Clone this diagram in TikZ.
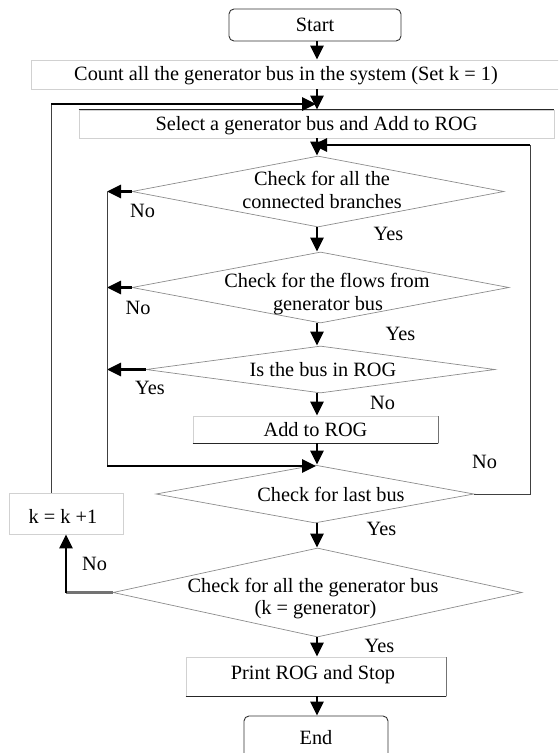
\documentclass[tikz,border=0pt]{standalone}
\usepackage{fontspec}
\setmainfont{Liberation Serif}
\usetikzlibrary{shapes.geometric,arrows.meta,calc}

\begin{document}
\begin{tikzpicture}[x=1pt,y=-1pt,
  font=\fontsize{20.3}{24}\selectfont,
  txt/.style={inner sep=0pt, text height=13.4pt, text depth=0pt},
  box/.style={draw=black!18, line width=0.8pt, inner sep=0pt, text height=13.4pt, text depth=0pt},
  term/.style={draw=black!80, line width=0.9pt, rounded corners=5pt, inner sep=0pt, text height=13.4pt, text depth=0pt},
  dia/.style={diamond, draw=black!45, line width=0.7pt, inner sep=0pt},
  arr/.style={line width=2.6pt, draw=black, -{Triangle[length=14pt,width=13pt]}},
  ln/.style={line width=1pt, draw=black!75},
  dk/.style={line width=1pt, draw=black!85},
  mid/.style={line width=1pt, draw=black!55}
]
\clip (0,0) rectangle (558,753);

% reference points for the main axis and the loop corners
\coordinate (ax) at (317,0);
\coordinate (lo) at (51,104);
\coordinate (li) at (107,466);
\coordinate (ro) at (530,145);

% process boxes and decisions
\node[term, minimum width=172pt, minimum height=32pt] (start) at (315,25) {Start};
\node[box, minimum width=540pt, minimum height=29pt, anchor=west] (count) at (31,74.5) {};
\node[txt] (countt) at (286,74) {Count all the generator bus in the system (Set k = 1)};
\node[box, minimum width=475pt, minimum height=28pt] (sel) at (316.5,124) {Select a generator bus and Add to ROG};

\node[dia, minimum width=372pt, minimum height=71pt] (d1) at (318,191.5) {};
\node[txt] (d1a) at (322,178.5) {Check for all the};
\node[txt] (d1b) at (322,202) {connected branches};

\node[dia, minimum width=377pt, minimum height=71pt] (d2) at (320.5,287.5) {};
\node[txt] (d2a) at (327,281) {Check for the flows from};
\node[txt] (d2b) at (328,304) {generator bus};

\node[dia, minimum width=349pt, minimum height=47pt] (d3) at (320.5,369.5) {};
\node[txt] (d3t) at (323,370) {Is the bus in ROG};

\node[box, minimum width=245pt, minimum height=27pt] (add) at (315.5,429.5) {Add to ROG};

\node[dia, minimum width=318pt, minimum height=58pt] (d4) at (315,494) {};
\node[txt] (d4t) at (331,495) {Check for last bus};

\node[dia, minimum width=409pt, minimum height=89pt] (d5) at (317.5,592.5) {};
\node[txt] (d5a) at (313,586) {Check for all the generator bus};
\node[txt] (d5b) at (315.5,608) {(k = generator)};

\node[box, minimum width=260pt, minimum height=39pt] (prt) at (316,676.5) {};
\node[txt] (prtt) at (313,672.5) {Print ROG and Stop};

\node[box, minimum width=114pt, minimum height=41pt] (k) at (66,513.5) {};
\node[txt] (kt) at (63,517) {k = k +1};

\node[term, minimum width=144pt, minimum height=44pt] (end) at (316,738) {End};

% darker box edges
\draw[dk] (sel.north west) -- (sel.north east);
\draw[dk] (add.south west) -- (add.south east);
\draw[mid] (add.south east) -- (add.north east);
\draw[dk] (prt.south west) -- (prt.south east);
\draw[mid] (prt.south east) -- (prt.north east);

% main flow
\draw[arr] (start.south -| ax) -- (count.north -| ax);
\draw[arr] (count.south -| ax) -- (sel.north -| ax);
\draw[arr] (sel.south -| ax) -- (d1.north -| ax);
\draw[arr] (d1.south -| ax) -- (d2.north -| ax);
\draw[arr] (d2.south -| ax) -- (d3.north -| ax);
\draw[arr] (d3.south -| ax) -- (add.north -| ax);
\draw[arr] (add.south -| ax) -- (d4.north -| ax);
\draw[arr] (d4.south -| ax) -- (d5.north -| ax);
\draw[arr] (d5.south -| ax) -- (prt.north -| ax);
\draw[arr] (prt.south -| ax) -- (end.north -| ax);

% inner loop: branches back to the last-bus check
\draw[arr] (d1.west) -- (d1.west -| li);
\draw[arr] (d2.west) -- (d2.west -| li);
\draw[arr] (d3.west) -- (d3.west -| li);
\draw[ln] (d1.west -| li) -- (li);
\draw[arr] (li) -- ($(li -| ax)+(-1,0)$);

% right loop: next bus
\draw[ln] (d4.east) -- (d4.east -| ro) -- (ro);
\draw[arr] (ro) -- ($(ro -| ax)+(-4,0)$);

% outer loop: next generator
\draw[line width=2.6pt, draw=black!55] (d5.west) -- (d5.west -| k.south);
\draw[arr] (d5.west -| k.south) -- (k.south);
\draw[ln] (k.north -| lo) -- (lo);
\draw[arr] (lo) -- ($(lo -| ax)+(-1,0)$);

% branch labels
\node[txt] (l1) at (142.5,211) {No};
\node[txt] (l2) at (388.5,233.5) {Yes};
\node[txt] (l3) at (138,308) {No};
\node[txt] (l4) at (400.5,333.5) {Yes};
\node[txt] (l5) at (150,388) {Yes};
\node[txt] (l6) at (382.5,402.5) {No};
\node[txt] (l7) at (484.5,462) {No};
\node[txt] (l8) at (381.5,528.5) {Yes};
\node[txt] (l9) at (94.5,564) {No};
\node[txt] (l10) at (379.5,646) {Yes};
\end{tikzpicture}
\end{document}
